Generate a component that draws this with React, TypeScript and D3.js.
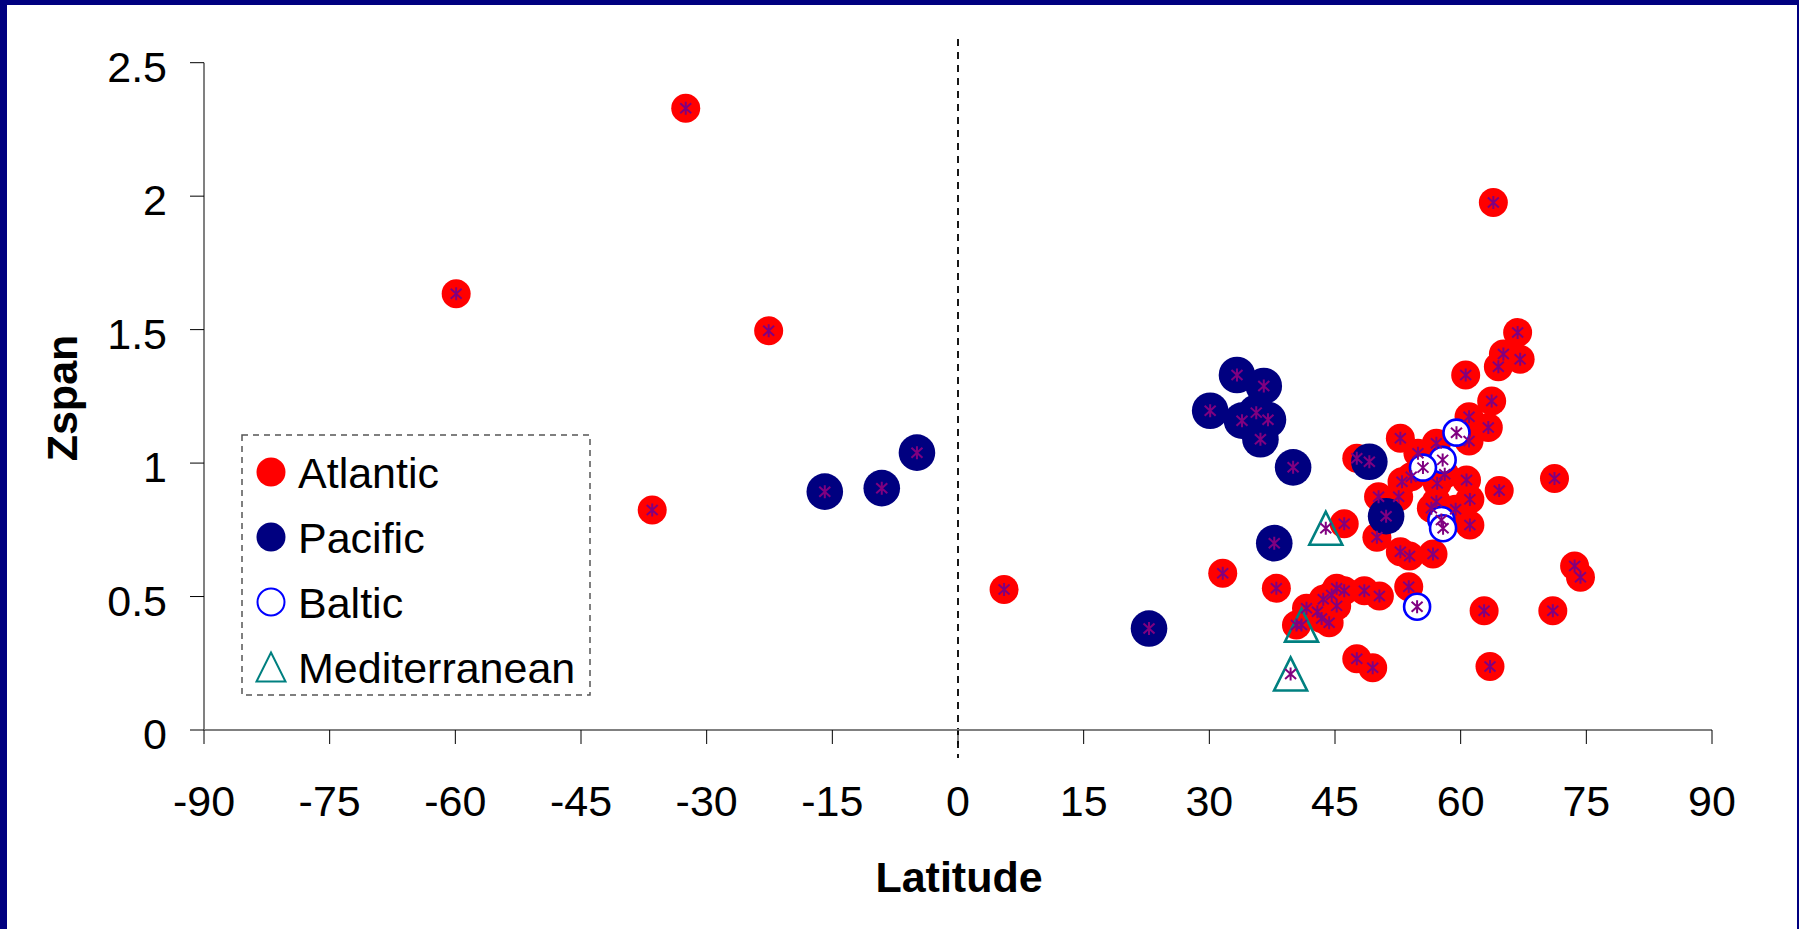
import React from "react";
import * as d3 from "d3";

// Zspan against latitude, by ocean basin: [latitude, zspan]
const atlantic: [number, number][] = [
  [-32.5, 2.329], [-59.9, 1.634], [-22.6, 1.496], [-36.5, 0.824],
  [5.5, 0.526], [63.9, 1.976], [66.8, 1.489], [65.1, 1.409], [67.1, 1.389],
  [64.5, 1.361], [60.6, 1.33], [63.7, 1.233], [61.0, 1.174], [63.3, 1.133],
  [52.8, 1.093], [57.1, 1.074], [61.0, 1.083], [47.6, 1.018], [54.9, 1.037],
  [53.0, 0.93], [54.1, 0.949], [57.2, 0.924], [58.1, 0.958], [60.7, 0.937],
  [64.6, 0.897], [71.2, 0.942], [50.2, 0.874], [52.6, 0.874], [57.1, 0.855],
  [61.1, 0.864], [59.4, 0.827], [56.5, 0.831], [61.1, 0.768], [46.1, 0.773],
  [50.0, 0.722], [52.8, 0.668], [53.9, 0.652], [56.7, 0.659], [73.6, 0.614],
  [74.3, 0.572], [71.0, 0.447], [62.8, 0.447], [63.5, 0.238], [47.6, 0.267],
  [49.5, 0.233], [31.6, 0.587], [38.0, 0.531], [41.6, 0.456], [40.4, 0.393],
  [43.6, 0.49], [45.2, 0.531], [46.1, 0.522], [44.6, 0.506], [45.2, 0.465],
  [42.9, 0.443], [43.4, 0.418], [44.3, 0.402], [48.5, 0.522], [50.3, 0.502],
  [53.8, 0.537],
];

const pacific: [number, number][] = [
  [-15.9, 0.893], [-9.1, 0.906], [-4.9, 1.039],
  [33.3, 1.33], [36.5, 1.289], [30.1, 1.196], [33.9, 1.159], [35.6, 1.189],
  [37.0, 1.162], [36.1, 1.089], [40.0, 0.984], [49.1, 1.005], [51.1, 0.801],
  [37.75, 0.7], [22.8, 0.38],
];

const baltic: [number, number][] = [
  [59.5, 1.114], [57.85, 1.012], [55.5, 0.983], [57.7, 0.787], [57.9, 0.756],
  [54.8, 0.462],
];

const mediterranean: [number, number][] = [
  [43.9, 0.756], [41.0, 0.393], [39.7, 0.21],
];

const xTicks = [-90, -75, -60, -45, -30, -15, 0, 15, 30, 45, 60, 75, 90];
const yTicks = [0, 0.5, 1, 1.5, 2, 2.5];
const legendItems = ["Atlantic", "Pacific", "Baltic", "Mediterranean"];

const W = 1799;
const H = 929;
const FONT = "Liberation Sans, Arial, Helvetica, sans-serif";
const NAVY = "#000080";

const x = d3.scaleLinear().domain([-90, 90]).range([204, 1712]);
const y = d3.scaleLinear().domain([0, 2.5]).range([730, 62.7]);

const triPath = (cx: number, cy: number, s = 33) =>
  `M${cx},${cy - s / 2}L${cx + s / 2},${cy + s / 2}L${cx - s / 2},${cy + s / 2}Z`;

const starPath = (cx: number, cy: number) =>
  `M${cx},${cy - 6.5}L${cx},${cy + 6.5}` +
  `M${cx - 5.5},${cy - 5}L${cx + 5.5},${cy + 5}` +
  `M${cx - 5.5},${cy + 5}L${cx + 5.5},${cy - 5}`;

function Marker({ kind, cx, cy }: { kind: string; cx: number; cy: number }) {
  if (kind === "Atlantic") return <circle cx={cx} cy={cy} r={14.5} fill="#ff0000" />;
  if (kind === "Pacific") return <circle cx={cx} cy={cy} r={18.3} fill={NAVY} />;
  if (kind === "Baltic")
    return <circle cx={cx} cy={cy} r={13} fill="#ffffff" stroke="#0000ff" strokeWidth={2.6} />;
  return <path d={triPath(cx, cy)} fill="none" stroke="#008080" strokeWidth={2.6} />;
}

export default function App() {
  const all = [...atlantic, ...pacific, ...baltic, ...mediterranean];
  const legendX = 271;
  const legendY0 = 472;
  const legendStep = 65;

  return (
    <svg
      width={W}
      height={H}
      style={{ position: "absolute", left: 0, top: 0, background: "#ffffff" }}
      fontFamily={FONT}
    >
      {/* frame */}
      <rect x={0} y={0} width={W} height={5} fill={NAVY} />
      <rect x={0} y={0} width={7} height={H} fill={NAVY} />
      <rect x={W - 2} y={0} width={2} height={H} fill={NAVY} />

      {/* equator reference */}
      <line
        x1={x(0)} x2={x(0)} y1={39} y2={758}
        stroke="#000" strokeWidth={1.8} strokeDasharray="7 6"
      />

      {/* axes */}
      <line x1={x(-90)} x2={x(-90)} y1={y(2.5)} y2={y(0)} stroke="#808080" strokeWidth={2} />
      <line x1={x(-90)} x2={x(90)} y1={y(0)} y2={y(0)} stroke="#808080" strokeWidth={2} />
      {yTicks.map((t) => (
        <g key={`y${t}`}>
          <line x1={190} x2={x(-90)} y1={y(t)} y2={y(t)} stroke="#000" strokeWidth={1} />
          <text x={167} y={y(t) + 19} textAnchor="end" fontSize={43} fill="#000">
            {t}
          </text>
        </g>
      ))}
      {xTicks.map((t) => (
        <g key={`x${t}`}>
          <line x1={x(t)} x2={x(t)} y1={y(0)} y2={744} stroke="#000" strokeWidth={1} />
          <text x={x(t)} y={816} textAnchor="middle" fontSize={43} fill="#000">
            {t}
          </text>
        </g>
      ))}

      <text x={959} y={892} textAnchor="middle" fontSize={43} fontWeight="bold" fill="#000">
        Latitude
      </text>
      <text
        transform={`translate(77,398) rotate(-90)`}
        textAnchor="middle" fontSize={43} fontWeight="bold" fill="#000"
      >
        Zspan
      </text>

      {/* series markers */}
      {atlantic.map(([a, b], i) => (
        <Marker key={`a${i}`} kind="Atlantic" cx={x(a)} cy={y(b)} />
      ))}
      {pacific.map(([a, b], i) => (
        <Marker key={`p${i}`} kind="Pacific" cx={x(a)} cy={y(b)} />
      ))}
      {baltic.map(([a, b], i) => (
        <Marker key={`b${i}`} kind="Baltic" cx={x(a)} cy={y(b)} />
      ))}
      {mediterranean.map(([a, b], i) => (
        <Marker key={`m${i}`} kind="Mediterranean" cx={x(a)} cy={y(b)} />
      ))}

      {/* station asterisks */}
      {all.map(([a, b], i) => (
        <path key={`s${i}`} d={starPath(x(a), y(b))} stroke="#800080" strokeWidth={2} fill="none" />
      ))}

      {/* legend */}
      <rect
        x={242} y={435} width={348} height={260}
        fill="#ffffff" stroke="#555" strokeWidth={1.5} strokeDasharray="6 5"
      />
      {legendItems.map((name, i) => {
        const cy = legendY0 + i * legendStep;
        return (
          <g key={name}>
            {name === "Atlantic" && <circle cx={legendX} cy={cy} r={14.5} fill="#ff0000" />}
            {name === "Pacific" && <circle cx={legendX} cy={cy} r={14.5} fill={NAVY} />}
            {name === "Baltic" && (
              <circle cx={legendX} cy={cy} r={13.5} fill="#fff" stroke="#0000ff" strokeWidth={2} />
            )}
            {name === "Mediterranean" && (
              <path d={triPath(legendX, cy, 29)} fill="none" stroke="#008080" strokeWidth={2} />
            )}
            <text x={298} y={cy + 16} fontSize={43} fill="#000">
              {name}
            </text>
          </g>
        );
      })}
    </svg>
  );
}
